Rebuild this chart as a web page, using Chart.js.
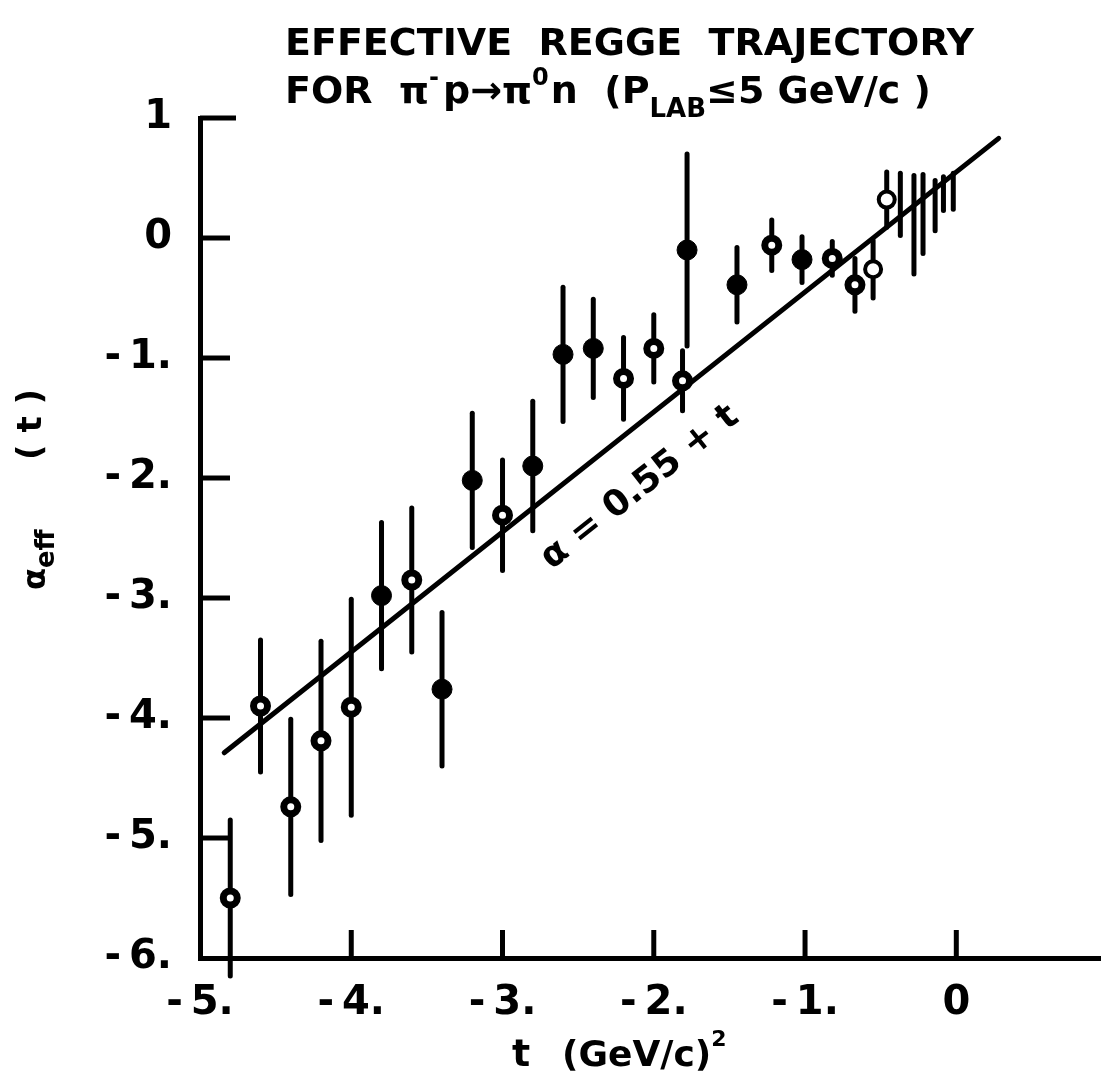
<!DOCTYPE html>
<html>
<head>
<meta charset="utf-8">
<title>Effective Regge trajectory</title>
<script src="https://cdn.jsdelivr.net/npm/chart.js@4.4.0/dist/chart.umd.min.js"></script>
<style>
  html, body { margin: 0; padding: 0; background: #fff; }
  #wrap { position: relative; width: 1114px; height: 1079px; }
</style>
</head>
<body>
<div id="wrap"><canvas id="chart"></canvas></div>
<script>
// Momentum transfer t in (GeV/c)^2
const tValues = [-4.8, -4.6, -4.4, -4.2, -4.0, -3.8, -3.6, -3.4, -3.2, -3.0,
                 -2.8, -2.6, -2.4, -2.2, -2.0, -1.81, -1.78, -1.45, -1.22, -1.02,
                 -0.82, -0.67, -0.55, -0.46, -0.37, -0.28, -0.22, -0.14, -0.085, -0.02];
// Effective trajectory alpha_eff(t)
const alphaValues = [-5.5, -3.9, -4.74, -4.19, -3.91, -2.98, -2.85, -3.76, -2.02, -2.31,
                     -1.9, -0.97, -0.92, -1.17, -0.92, -1.19, -0.10, -0.39, -0.06, -0.18,
                     -0.17, -0.39, -0.26, 0.32, 0.28, 0.11, 0.20, 0.27, 0.37, 0.39];
// Symmetric error on alpha_eff
const alphaErrors = [0.65, 0.55, 0.73, 0.83, 0.9, 0.61, 0.6, 0.64, 0.56, 0.46,
                     0.54, 0.56, 0.41, 0.34, 0.28, 0.25, 0.8, 0.31, 0.21, 0.19,
                     0.14, 0.22, 0.24, 0.23, 0.26, 0.41, 0.33, 0.21, 0.14, 0.15];
// Marker style of each point
const markerKinds = ['ring', 'ring', 'ring', 'ring', 'ring', 'solid', 'ring', 'solid', 'solid', 'ring',
                     'solid', 'solid', 'solid', 'ring', 'ring', 'ring', 'solid', 'solid', 'ring', 'solid',
                     'ring', 'ring', 'open', 'open', 'none', 'none', 'none', 'none', 'none', 'none'];

// Straight-line trajectory alpha = 0.55 + t
const fitIntercept = 0.55;
const fitSlope = 1;
const fitRange = [-4.84, 0.28];

// Axis ticks and their printed labels
const xTicks = [-5, -4, -3, -2, -1, 0];
const xTickLabels = ['-\u20095.', '-\u20094.', '-\u20093.', '-\u20092.', '-\u20091.', '0'];
const yTicks = [1, 0, -1, -2, -3, -4, -5, -6];
const yTickLabels = ['1', '0', '-\u20091.', '-\u20092.', '-\u20093.', '-\u20094.', '-\u20095.', '-\u20096.'];

const FONT = "'DejaVu Sans', 'Liberation Sans', sans-serif";
Chart.defaults.font.family = FONT;
Chart.defaults.font.weight = 'bold';
Chart.defaults.color = '#000';

function pointsOf(kind) {
  const out = [];
  tValues.forEach((t, i) => { if (markerKinds[i] === kind) out.push({ x: t, y: alphaValues[i] }); });
  return out;
}
const fitPoints = fitRange.map(t => ({ x: t, y: fitIntercept + fitSlope * t }));

// Vertical error bars, placed through the chart scales
const errorBars = {
  id: 'errorBars',
  beforeDatasetsDraw(chart) {
    const { ctx, scales: { x, y } } = chart;
    ctx.save();
    ctx.strokeStyle = '#000';
    ctx.lineWidth = 5;
    ctx.lineCap = 'round';
    tValues.forEach((t, i) => {
      const px = x.getPixelForValue(t);
      ctx.beginPath();
      ctx.moveTo(px, y.getPixelForValue(alphaValues[i] + alphaErrors[i]));
      ctx.lineTo(px, y.getPixelForValue(alphaValues[i] - alphaErrors[i]));
      ctx.stroke();
    });
    ctx.restore();
  }
};

// Tick marks pointing into the plot
const innerTicks = {
  id: 'innerTicks',
  afterDraw(chart) {
    const { ctx, chartArea: a, scales: { x, y } } = chart;
    ctx.save();
    ctx.strokeStyle = '#000';
    ctx.lineWidth = 5;
    yTicks.forEach(v => {
      if (v === -6) return;
      const py = y.getPixelForValue(v);
      ctx.beginPath();
      ctx.moveTo(a.left, py);
      ctx.lineTo(a.left + (v === 1 ? 36 : 30), py);
      ctx.stroke();
    });
    xTicks.forEach(v => {
      if (v === -5) return;
      const px = x.getPixelForValue(v);
      ctx.beginPath();
      ctx.moveTo(px, a.bottom);
      ctx.lineTo(px, a.bottom - 28);
      ctx.stroke();
    });
    ctx.restore();
  }
};

function drawRuns(ctx, x, y, runs) {
  runs.forEach(r => {
    ctx.font = `bold ${r.s}px ${FONT}`;
    ctx.fillText(r.t, x, y + (r.dy || 0));
    x += ctx.measureText(r.t).width + (r.gap || 0);
  });
  return x;
}

// Title, axis titles and the trajectory label
const texts = {
  id: 'texts',
  afterDraw(chart) {
    const { ctx, scales: { x, y } } = chart;
    ctx.save();
    ctx.fillStyle = '#000';
    ctx.textAlign = 'left';
    ctx.textBaseline = 'alphabetic';

    drawRuns(ctx, 285, 55, [{ t: 'EFFECTIVE  REGGE  TRAJECTORY', s: 38 }]);
    drawRuns(ctx, 285, 103, [
      { t: 'FOR  ', s: 38 },
      { t: '\u03C0', s: 38 },
      { t: '-', s: 24, dy: -18, gap: 4 },
      { t: 'p', s: 38 },
      { t: '\u2192', s: 38 },
      { t: '\u03C0', s: 38 },
      { t: '0', s: 24, dy: -18, gap: 2 },
      { t: 'n  (P', s: 38 },
      { t: 'LAB', s: 26, dy: 14 },
      { t: '\u22645 GeV/c )', s: 38 }
    ]);

    // horizontal axis title
    drawRuns(ctx, 512, 1066, [{ t: 't', s: 38 }]);
    drawRuns(ctx, 562, 1066, [
      { t: '(GeV/c)', s: 36 },
      { t: '2', s: 22, dy: -20 }
    ]);

    // vertical axis title
    ctx.save();
    ctx.translate(45, 590);
    ctx.rotate(-Math.PI / 2);
    drawRuns(ctx, 0, 0, [
      { t: '\u03B1', s: 32 },
      { t: 'eff', s: 26, dy: 9 }
    ]);
    drawRuns(ctx, 130, -4, [{ t: '( t )', s: 34 }]);
    ctx.restore();

    // label along the straight line
    const tA = -4, tB = 0;
    const ax = x.getPixelForValue(tA), ay = y.getPixelForValue(fitIntercept + fitSlope * tA);
    const bx = x.getPixelForValue(tB), by = y.getPixelForValue(fitIntercept + fitSlope * tB);
    const ang = Math.atan2(by - ay, bx - ax);
    ctx.save();
    ctx.translate(x.getPixelForValue(-2.09), y.getPixelForValue(-2.08));
    ctx.rotate(ang);
    ctx.textAlign = 'center';
    ctx.textBaseline = 'middle';
    ctx.font = `bold 36px ${FONT}`;
    ctx.fillText('\u03B1 = 0.55 + t', 0, 0);
    ctx.restore();

    ctx.restore();
  }
};

new Chart(document.getElementById('chart'), {
  type: 'scatter',
  data: {
    datasets: [
      { label: 'solid', data: pointsOf('solid'), pointRadius: 10, backgroundColor: '#000', borderColor: '#000', borderWidth: 1 },
      { label: 'ring', data: pointsOf('ring'), pointRadius: 7, backgroundColor: '#fff', borderColor: '#000', borderWidth: 7 },
      { label: 'open', data: pointsOf('open'), pointRadius: 8, backgroundColor: '#fff', borderColor: '#000', borderWidth: 4 },
      { type: 'line', label: 'alpha = 0.55 + t', data: fitPoints, borderColor: '#000', borderWidth: 5,
        pointRadius: 0, fill: false, tension: 0, borderCapStyle: 'round' }
    ]
  },
  options: {
    responsive: true,
    maintainAspectRatio: false,
    animation: false,
    layout: { padding: { top: 118, left: 0, right: 7, bottom: 0 } },
    plugins: { legend: { display: false }, tooltip: { enabled: false }, title: { display: false } },
    scales: {
      x: {
        type: 'linear', min: -5, max: 0.95,
        afterFit(s) { s.height = 121; },
        grid: { display: false, drawTicks: false },
        border: { display: true, width: 5, color: '#000' },
        ticks: {
          stepSize: 1, includeBounds: false, autoSkip: false, maxRotation: 0, minRotation: 0,
          color: '#000', padding: 22, font: { size: 40, weight: 'bold' },
          callback: v => { const i = xTicks.indexOf(v); return i < 0 ? '' : xTickLabels[i]; }
        }
      },
      y: {
        type: 'linear', min: -6, max: 1,
        afterFit(s) { s.width = 200; },
        grid: { display: false, drawTicks: false },
        border: { display: true, width: 5, color: '#000' },
        ticks: {
          stepSize: 1, includeBounds: false, autoSkip: false,
          color: '#000', padding: 28, font: { size: 40, weight: 'bold' },
          callback: v => { const i = yTicks.indexOf(v); return i < 0 ? '' : yTickLabels[i]; }
        }
      }
    }
  },
  plugins: [errorBars, innerTicks, texts]
});
</script>
</body>
</html>
